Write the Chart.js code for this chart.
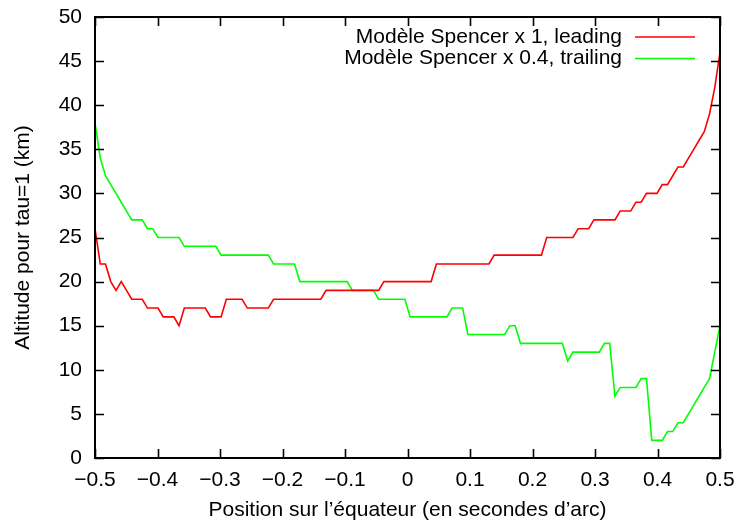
<!DOCTYPE html>
<html>
<head>
<meta charset="utf-8">
<script src="https://cdn.jsdelivr.net/npm/chart.js@4/dist/chart.umd.min.js"></script>
<style>
html,body{margin:0;padding:0;background:#fff;}
canvas{display:block;}
</style>
</head>
<body>
<canvas id="c" width="738" height="523"></canvas>
<script>
// Positions along the equator (arcsec), 120 samples
const positions = [
-0.5,-0.4916,-0.4832,-0.4748,-0.4664,-0.458,-0.4496,-0.4412,-0.4328,-0.4244,-0.416,-0.4076,
-0.3992,-0.3908,-0.3824,-0.3739,-0.3655,-0.3571,-0.3487,-0.3403,-0.3319,-0.3235,-0.3151,-0.3067,
-0.2983,-0.2899,-0.2815,-0.2731,-0.2647,-0.2563,-0.2479,-0.2395,-0.2311,-0.2227,-0.2143,-0.2059,
-0.1975,-0.1891,-0.1807,-0.1723,-0.1639,-0.1555,-0.1471,-0.1387,-0.1303,-0.1218,-0.1134,-0.105,
-0.0966,-0.0882,-0.0798,-0.0714,-0.063,-0.0546,-0.0462,-0.0378,-0.0294,-0.021,-0.0126,-0.0042,
0.0042,0.0126,0.021,0.0294,0.0378,0.0462,0.0546,0.063,0.0714,0.0798,0.0882,0.0966,
0.105,0.1134,0.1218,0.1303,0.1387,0.1471,0.1555,0.1639,0.1723,0.1807,0.1891,0.1975,
0.2059,0.2143,0.2227,0.2311,0.2395,0.2479,0.2563,0.2647,0.2731,0.2815,0.2899,0.2983,
0.3067,0.3151,0.3235,0.3319,0.3403,0.3487,0.3571,0.3655,0.3739,0.3824,0.3908,0.3992,
0.4076,0.416,0.4244,0.4328,0.4412,0.4496,0.458,0.4664,0.4748,0.4832,0.4916,0.5];

// Altitude for tau=1 (km)
const leading = [
26,22,22,20,19,20,19,18,18,18,17,17,
17,16,16,16,15,17,17,17,17,17,16,16,
16,18,18,18,18,17,17,17,17,17,18,18,
18,18,18,18,18,18,18,18,19,19,19,19,
19,19,19,19,19,19,19,20,20,20,20,20,
20,20,20,20,20,22,22,22,22,22,22,22,
22,22,22,22,23,23,23,23,23,23,23,23,
23,23,25,25,25,25,25,25,26,26,26,27,
27,27,27,27,28,28,28,29,29,30,30,30,
31,31,32,33,33,34,35,36,37,39,42,46];

const trailing = [
38,34,32,31,30,29,28,27,27,27,26,26,
25,25,25,25,25,24,24,24,24,24,24,24,
23,23,23,23,23,23,23,23,23,23,22,22,
22,22,22,20,20,20,20,20,20,20,20,20,
20,19,19,19,19,19,18,18,18,18,18,18,
16,16,16,16,16,16,16,16,17,17,17,14,
14,14,14,14,14,14,14,15,15,13,13,13,
13,13,13,13,13,13,11,12,12,12,12,12,
12,13,13,7,8,8,8,8,9,9,2,2,
2,3,3,4,4,5,6,7,8,9,12,15];

const seriesLabels = ["Modèle Spencer x 1, leading", "Modèle Spencer x 0.4, trailing"];
const seriesColors = ["#ff0000", "#00ff00"];
const xTicks = [-0.5,-0.4,-0.3,-0.2,-0.1,0,0.1,0.2,0.3,0.4,0.5];
const yTicks = [0,5,10,15,20,25,30,35,40,45,50];
const xTitle = "Position sur l’équateur (en secondes d’arc)";
const yTitle = "Altitude pour tau=1 (km)";

const FONT = '"Liberation Sans", Arial, Helvetica, sans-serif';
const FSIZE = 21;
Chart.defaults.font.family = FONT;
Chart.defaults.font.size = FSIZE;
Chart.defaults.color = '#000';

function fmt(v){
  const r = Math.round(v*10)/10;
  if (r === 0) return '0';
  const s = Number.isInteger(r) ? String(Math.abs(r)) : Math.abs(r).toFixed(1);
  return (r < 0 ? '\u2212' : '') + s;
}

const frame = {
  id: 'frame',
  afterDatasetsDraw(chart){
    const {ctx, chartArea:a, scales:{x, y}} = chart;
    ctx.save();
    ctx.strokeStyle = '#000';
    ctx.lineWidth = 1.6;
    const tl = 9;
    ctx.beginPath();
    xTicks.forEach(v => {
      const px = Math.round(x.getPixelForValue(v)) + 0.5;
      ctx.moveTo(px, a.bottom); ctx.lineTo(px, a.bottom - tl);
      ctx.moveTo(px, a.top); ctx.lineTo(px, a.top + tl);
    });
    yTicks.forEach(v => {
      const py = Math.round(y.getPixelForValue(v)) + 0.5;
      ctx.moveTo(a.left, py); ctx.lineTo(a.left + tl, py);
      ctx.moveTo(a.right, py); ctx.lineTo(a.right - tl, py);
    });
    ctx.stroke();
    ctx.lineWidth = 2;
    ctx.strokeRect(a.left, a.top, a.right - a.left, a.bottom - a.top);

    // legend (gnuplot style: text right-aligned, sample line to the right)
    ctx.font = FSIZE + 'px ' + FONT;
    ctx.textAlign = 'right';
    ctx.textBaseline = 'middle';
    chart.data.datasets.forEach((ds, i) => {
      const ly = a.top + 20 + i * 21.5;
      ctx.fillStyle = '#000';
      ctx.fillText(ds.label, a.right - 98, ly);
      ctx.strokeStyle = ds.borderColor;
      ctx.lineWidth = 1.6;
      ctx.beginPath();
      ctx.moveTo(a.right - 85, ly); ctx.lineTo(a.right - 25, ly);
      ctx.stroke();
    });
    ctx.restore();
  }
};

new Chart(document.getElementById('c'), {
  type: 'line',
  data: {
    datasets: [
      { label: seriesLabels[0], data: positions.map((p,i)=>({x:p, y:leading[i]})),
        borderColor: seriesColors[0], borderWidth: 1.6, pointRadius: 0, fill: false, tension: 0 },
      { label: seriesLabels[1], data: positions.map((p,i)=>({x:p, y:trailing[i]})),
        borderColor: seriesColors[1], borderWidth: 1.6, pointRadius: 0, fill: false, tension: 0 }
    ]
  },
  options: {
    responsive: false,
    animation: false,
    events: [],
    layout: { padding: { top: 17, right: 18, left: 0, bottom: 0 } },
    plugins: { legend: { display: false }, tooltip: { enabled: false } },
    scales: {
      x: {
        type: 'linear', min: -0.5, max: 0.5,
        grid: { display: false, drawTicks: false },
        border: { display: false },
        afterBuildTicks: s => { s.ticks = xTicks.map(v => ({ value: v })); },
        afterFit: s => { s.height = 65; s.paddingLeft = 0; s.paddingRight = 0; },
        ticks: { padding: 10, maxRotation: 0, autoSkip: false, callback: v => fmt(v), color: '#000' },
        title: { display: true, text: xTitle, color: '#000', padding: { top: 0, bottom: 0 } }
      },
      y: {
        type: 'linear', min: 0, max: 50,
        grid: { display: false, drawTicks: false },
        border: { display: false },
        afterBuildTicks: s => { s.ticks = yTicks.map(v => ({ value: v })); },
        afterFit: s => { s.width = 95; s.paddingTop = 0; s.paddingBottom = 0; },
        ticks: { padding: 13, autoSkip: false, callback: v => String(v), color: '#000' },
        title: { display: true, text: yTitle, color: '#000', padding: { top: 11, bottom: 0 } }
      }
    }
  },
  plugins: [frame]
});
</script>
</body>
</html>
